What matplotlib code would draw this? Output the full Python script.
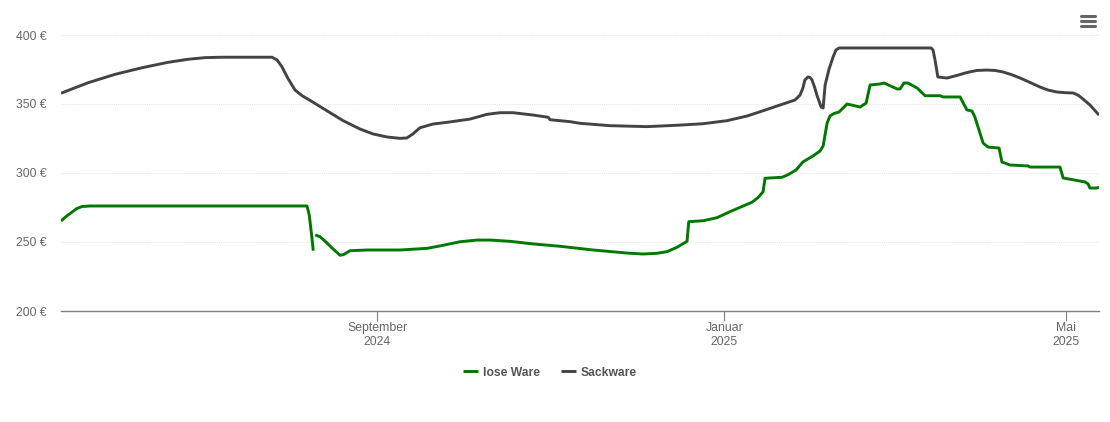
import numpy as np
import matplotlib
matplotlib.use("Agg")
import matplotlib.pyplot as plt
import matplotlib.dates as mdates
from matplotlib.lines import Line2D
from datetime import date

plt.rcParams['font.family'] = ['Liberation Sans', 'DejaVu Sans']

# days relative to 2024-09-01
sack_days = [-111,-101.5,-92,-82.5,-73.4,-66.4,-60.4,-54.4,-36.9,-35.1,-33.4,-31.3,-28.8,-26.3,-22.8,-17.6,-11.9,-6,-1.4,3.5,8.1,10.5,12.6,15.1,19.7,25.6,32.7,38.6,43.2,47.8,54.8,60.1,60.8,67.8,71.3,81.8,94.8,105.4,114.5,122.9,130,135.6,141.6,146.8,148.6,149.6,150.3,151.4,152.1,152.8,153.8,154.5,156,156.7,157.4,158.8,160.2,161.2,162.3,194.6,195.3,196,197,200.2,203.7,207.2,210.7,214.3,217.1,219.9,222.7,225.9,229.4,232.9,235.7,238.8,241.7,244.5,246.2,248,250.4,253.6]
sack_vals = [357.8,365.4,371.5,376.3,380.2,382.4,383.6,383.9,383.9,381.9,377,368.6,360.1,356,351.7,345.1,337.9,331.9,328.3,326.1,325.1,325.4,328.3,332.8,335.5,337,339.1,342.5,343.7,343.7,342,340.4,338.6,337.2,336,334.3,333.6,334.6,335.7,337.9,341.3,345.1,349.3,352.9,356.5,361.6,367.4,369.6,369.2,367.4,361.6,356.5,347.8,347.1,363.8,375.4,384.1,389.1,390.6,390.6,389.1,381.9,369.6,368.8,370.7,372.8,374.3,374.6,374.3,373.2,371.4,368.8,365.6,362.3,360.1,358.7,358.2,358,356.5,353.6,349.3,342]

lose_days = [-111,-109.2,-107.1,-105.4,-103.6,-100.8,-24.6,-23.8,-22.9,-22.4,-22,-21.7,-20,-18.3,-15.3,-13,-11.8,-9.5,-3.5,8.1,17.6,23.2,29.2,35.1,39.7,46.7,54.8,64.3,75.9,87.8,93.4,98.3,101.9,105.4,108.9,109.5,114.5,119.4,124,131.7,133.8,135.6,136.3,142.3,144.4,147.2,149.6,153.1,155.6,156.7,158.1,159.1,160.5,162.3,165.1,169.7,171.8,173.2,176.7,178.1,182.7,183.7,185.1,186.5,189.7,192.5,197.8,198.8,204.8,207.2,209,210,212.9,214.6,218.5,219.5,222.3,228.7,229.4,239.9,241,248.7,249.8,250.4,252.9,253.6]
lose_vals = [265.2,268.5,271.7,274.3,275.7,276.1,276.1,269.6,253.8,243.7,np.nan,255.1,253.8,250.7,244.7,240.4,240.8,243.7,244.2,244.2,245.4,247.6,250.2,251.4,251.4,250.5,248.6,246.9,244.2,242,241.3,241.8,243,246.2,250.5,264.7,265.4,267.6,272,278.8,282.1,286.4,296.2,296.9,298.8,302.2,308,312.3,315.9,319.6,336.2,341.3,343.1,344.2,350,347.8,350.7,363.8,364.5,365.2,360.9,360.9,365.2,365.2,361.6,356,356,355.1,355.1,345.7,344.9,340.6,321.7,318.8,318.1,308,305.8,305.1,304.3,304.3,296.4,293.5,292,289.1,289.1,289.9]

y_ticks = [200, 250, 300, 350, 400]
x_tick_dates = [date(2024, 9, 1), date(2025, 1, 1), date(2025, 5, 1)]
x_tick_labels = ["September\n2024", "Januar\n2025", "Mai\n2025"]
names = ["lose Ware", "Sackware"]

W, H = 1110, 422
fig = plt.figure(figsize=(W/100, H/100), dpi=100, facecolor='white')
L, R, T, B = 61, 1099, 35, 311
ax = fig.add_axes([L/W, 1-B/H, (R-L)/W, (B-T)/H])

base = mdates.date2num(date(2024, 9, 1))
ax.plot(base+np.array(lose_days), lose_vals, color='#007800', lw=2.1, label=names[0],
        solid_joinstyle='round', solid_capstyle='butt', zorder=3)
ax.plot(base+np.array(sack_days), sack_vals, color='#434343', lw=2.1, label=names[1],
        solid_joinstyle='round', solid_capstyle='butt', zorder=3)

ax.set_xlim(base-111, base+253.6)
ax.set_ylim(200, 400)
for s in ('top', 'left', 'right'):
    ax.spines[s].set_visible(False)
ax.spines['bottom'].set_color('#7f7f7f')
ax.spines['bottom'].set_linewidth(1.0)

ax.set_yticks(y_ticks)
ax.set_yticklabels([f"{v} €" for v in y_ticks])
ax.tick_params(axis='y', length=0, pad=10.5, labelsize=8.8, labelcolor='#666666')
ax.set_xticks([mdates.date2num(d) for d in x_tick_dates])
ax.set_xticklabels(x_tick_labels, linespacing=1.25)
ax.tick_params(axis='x', length=7.5, width=0.8, color='#7f7f7f', pad=0.5, labelsize=8.8, labelcolor='#666666')
ax.grid(axis='y', color='#e6e6e6', lw=0.7, ls=(0, (1, 1)))
ax.set_axisbelow(True)

leg = fig.legend(loc='center', bbox_to_anchor=(550/W, 1-372.5/H), ncol=2, frameon=False,
                 prop={'size': 8.7, 'weight': 'bold'}, handlelength=1.25, handletextpad=0.42,
                 columnspacing=1.7)
for t in leg.get_texts():
    t.set_color('#555555')

for yy in (16, 21, 26):
    fig.add_artist(Line2D([1081/W, 1095/W], [1-yy/H, 1-yy/H], color='#666666', lw=2.2,
                          solid_capstyle='round', transform=fig.transFigure))

fig.savefig('out.png', dpi=100)
